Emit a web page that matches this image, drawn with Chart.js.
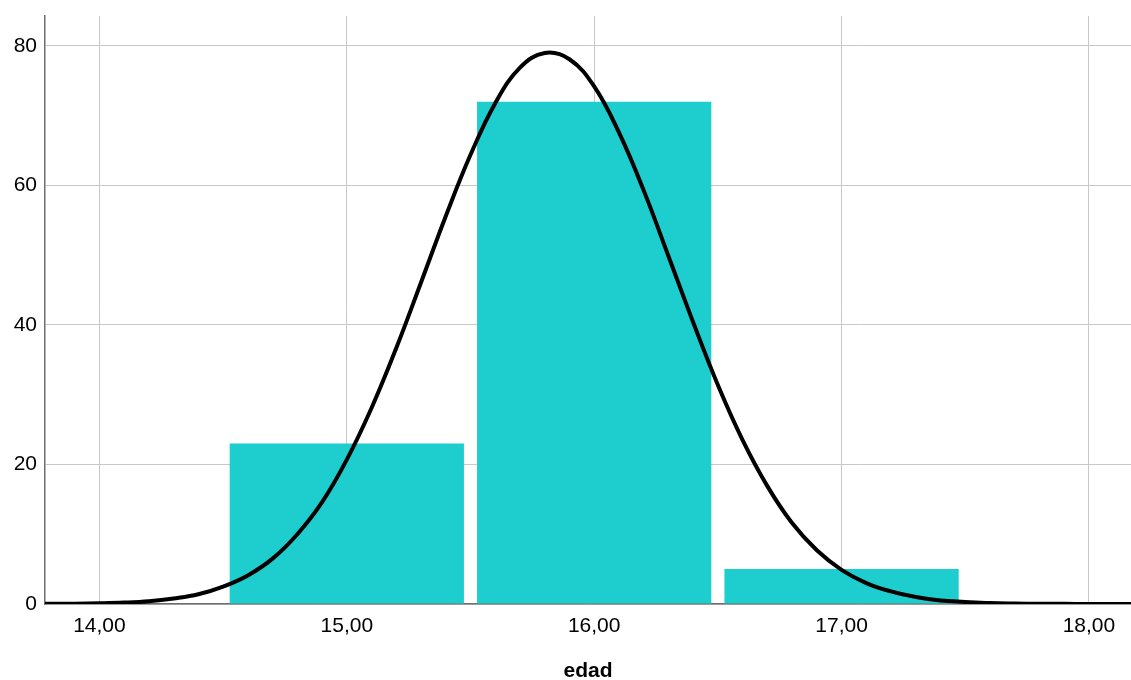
<!DOCTYPE html>
<html>
<head>
<meta charset="utf-8">
<script src="https://cdn.jsdelivr.net/npm/chart.js@4/dist/chart.umd.min.js"></script>
<style>
  html, body { margin: 0; padding: 0; background: #fff; }
  #wrap { width: 1131px; height: 680px; }
</style>
</head>
<body>
<div id="wrap"><canvas id="histChart"></canvas></div>
<script>
// histogram bins (centre of each bin) and counts
const binCenters = [15, 16, 17];
const binCounts = [23, 72, 5];

// normal curve
const curveX = [13.78, 13.9, 14.0, 14.1, 14.2, 14.3, 14.4, 14.5, 14.6, 14.7, 14.8, 14.9,
  15.0, 15.1, 15.2, 15.3, 15.4, 15.5, 15.6, 15.7, 15.8, 15.9, 16.0, 16.1, 16.2, 16.3,
  16.4, 16.5, 16.6, 16.7, 16.8, 16.9, 17.0, 17.1, 17.2, 17.3, 17.4, 17.5, 17.6, 17.7,
  17.8, 17.9, 18.0, 18.17];
const curveY = [0.02, 0.05, 0.1, 0.2, 0.4, 0.8, 1.4, 2.5, 4.1, 6.5, 10.0, 14.6,
  20.7, 28.1, 36.7, 46.1, 55.6, 64.4, 71.8, 76.9, 79.0, 78.1, 74.2, 67.6, 59.3, 49.9,
  40.4, 31.4, 23.5, 16.9, 11.6, 7.7, 4.9, 3.0, 1.8, 1.0, 0.5, 0.3, 0.14, 0.07,
  0.03, 0.02, 0.01, 0];

const xTicks = [14, 15, 16, 17, 18];
const yTicks = [0, 20, 40, 60, 80];

const barColor = "#1ecdcd";
const gridColor = "#c8c8c8";
const axisColor = "#6e6e6e";
const fontFamily = "'Liberation Sans', Arial, sans-serif";

new Chart(document.getElementById("histChart"), {
  type: "bar",
  data: {
    datasets: [
      {
        type: "line",
        label: "Normal",
        data: curveX.map((x, i) => ({ x: x, y: curveY[i] })),
        borderColor: "#000",
        borderWidth: 4,
        pointRadius: 0,
        tension: 0.4,
        fill: false,
        order: 0
      },
      {
        label: "edad",
        data: binCenters.map((x, i) => ({ x: x, y: binCounts[i] })),
        backgroundColor: barColor,
        borderWidth: 0,
        categoryPercentage: 1,
        barPercentage: 0.947,
        order: 1
      }
    ]
  },
  options: {
    responsive: true,
    maintainAspectRatio: false,
    animation: false,
    layout: { padding: { top: 16, right: 0, left: 0, bottom: 0 } },
    plugins: {
      legend: { display: false },
      tooltip: { enabled: false }
    },
    scales: {
      x: {
        type: "linear",
        min: 13.78,
        max: 18.17,
        offset: false,
        afterBuildTicks: s => { s.ticks = xTicks.map(v => ({ value: v })); },
        afterFit: s => { s.height = 76; },
        grid: { color: gridColor, lineWidth: 1, drawTicks: false, offset: false },
        border: { color: axisColor, width: 1.5 },
        ticks: {
          padding: 10,
          color: "#000",
          font: { family: fontFamily, size: 21 },
          callback: v => v.toFixed(2).replace(".", ",")
        },
        title: {
          display: true,
          text: "edad",
          color: "#000",
          font: { family: fontFamily, size: 21, weight: "bold", lineHeight: 0.8 },
          padding: { top: 0, bottom: 0 }
        }
      },
      y: {
        min: 0,
        max: 84.3,
        afterBuildTicks: s => { s.ticks = yTicks.map(v => ({ value: v })); },
        afterFit: s => { s.width = 45; s.paddingTop = 0; s.paddingBottom = 0; },
        grid: { color: gridColor, lineWidth: 1, drawTicks: false },
        border: { color: axisColor, width: 1.5 },
        ticks: {
          padding: 8,
          color: "#000",
          font: { family: fontFamily, size: 21 }
        }
      }
    }
  }
});
</script>
</body>
</html>
